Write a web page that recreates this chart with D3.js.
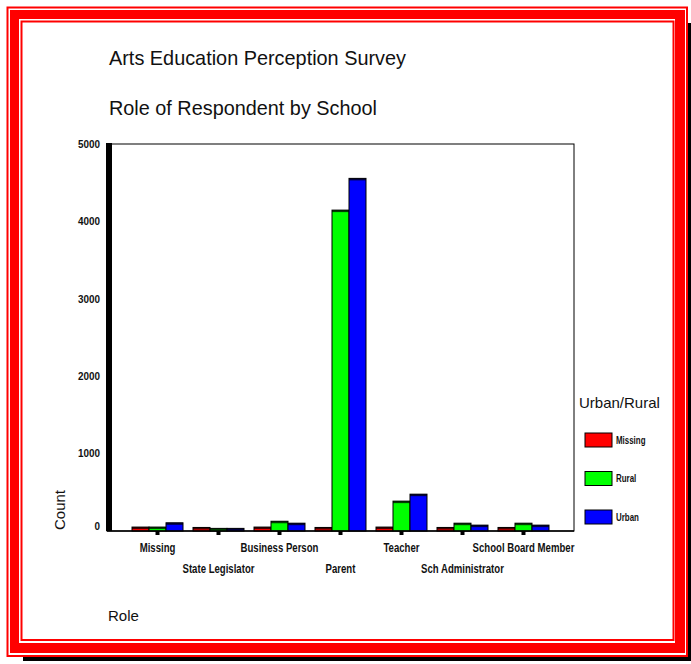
<!DOCTYPE html>
<html>
<head>
<meta charset="utf-8">
<script src="https://cdn.jsdelivr.net/npm/d3@7"></script>
<style>
  body { margin: 0; background: #fff; }
  svg { display: block; }
  .small { font-family: "Liberation Sans", Arial, sans-serif; font-weight: bold; }
  .big { font-family: "Liberation Sans", Arial, sans-serif; fill: #111; }
</style>
</head>
<body>
<div id="chart"></div>
<script>
// data
const roles = ["Missing", "State Legislator", "Business Person", "Parent", "Teacher", "Sch Administrator", "School Board Member"];
const groups = ["Missing", "Rural", "Urban"];
const missingCounts = [25, 20, 25, 20, 25, 20, 20];
const ruralCounts = [25, 8, 100, 4120, 360, 75, 75];
const urbanCounts = [80, 8, 75, 4530, 450, 50, 50];
const yTicks = [0, 1000, 2000, 3000, 4000, 5000];
const groupColors = ["#ff0000", "#00ff00", "#0000ff"];

const width = 691, height = 664;
const svg = d3.select('#chart').append('svg')
  .attr('width', width)
  .attr('height', height);

// frame: shadow, thin red, thick red band, thin red
svg.append('rect').attr('x', 23).attr('y', 23).attr('width', 668).attr('height', 638).attr('fill', '#000');
svg.append('rect').attr('x', 0).attr('y', 0).attr('width', 688).attr('height', 657).attr('fill', '#fff');
svg.append('rect').attr('x', 7.5).attr('y', 7.5).attr('width', 679.5).attr('height', 648.5)
  .attr('fill', 'none').attr('stroke', '#ff0000').attr('stroke-width', 2);
svg.append('rect').attr('x', 10).attr('y', 10).attr('width', 675).attr('height', 643).attr('fill', '#ff0000');
svg.append('rect').attr('x', 19).attr('y', 19).attr('width', 656).attr('height', 624).attr('fill', '#fff');
svg.append('rect').attr('x', 21.5).attr('y', 21.5).attr('width', 652).attr('height', 618.5)
  .attr('fill', 'none').attr('stroke', '#ff0000').attr('stroke-width', 2);

// titles
svg.append('text').attr('class', 'big').attr('x', 109).attr('y', 65)
  .attr('font-size', 21).attr('textLength', 297).attr('lengthAdjust', 'spacingAndGlyphs')
  .text('Arts Education Perception Survey');
svg.append('text').attr('class', 'big').attr('x', 109).attr('y', 115)
  .attr('font-size', 21).attr('textLength', 268).attr('lengthAdjust', 'spacingAndGlyphs')
  .text('Role of Respondent by School');

const plot = { left: 107, right: 574, top: 144, bottom: 531 };

const x0 = d3.scaleBand().domain(roles)
  .range([plot.left, plot.right])
  .paddingInner(0.164).paddingOuter(0.41);
const x1 = d3.scaleBand().domain(groups).range([0, x0.bandwidth()]);
const y = d3.scaleLinear().domain([0, 5000]).range([plot.bottom, plot.top]);

// plot box
svg.append('rect')
  .attr('x', plot.left).attr('y', plot.top)
  .attr('width', plot.right - plot.left).attr('height', plot.bottom - plot.top)
  .attr('fill', 'none').attr('stroke', '#000').attr('stroke-width', 1);

const series = [missingCounts, ruralCounts, urbanCounts];
const rows = roles.map((r, i) => groups.map((g, j) => ({ role: r, group: g, value: series[j][i], color: groupColors[j] })));

const roleG = svg.selectAll('.role')
  .data(rows)
  .enter()
  .append('g')
  .attr('transform', (d, i) => `translate(${x0(roles[i])},0)`);

roleG.selectAll('rect.bar')
  .data(d => d)
  .enter()
  .append('rect')
  .attr('class', 'bar')
  .attr('x', d => x1(d.group))
  .attr('y', d => y(d.value) - 2)
  .attr('width', x1.bandwidth())
  .attr('height', d => plot.bottom - y(d.value) + 2)
  .attr('fill', d => d.color)
  .attr('stroke', '#000')
  .attr('stroke-width', 1);

// dark top cap
roleG.selectAll('rect.cap')
  .data(d => d)
  .enter()
  .append('rect')
  .attr('class', 'cap')
  .attr('x', d => x1(d.group))
  .attr('y', d => y(d.value) - 2)
  .attr('width', x1.bandwidth())
  .attr('height', 2)
  .attr('fill', '#000')
  .attr('opacity', 0.75);

// baseline and thick left axis
svg.append('line')
  .attr('x1', plot.left).attr('x2', plot.right)
  .attr('y1', plot.bottom).attr('y2', plot.bottom)
  .attr('stroke', '#000').attr('stroke-width', 1.5);
svg.append('rect')
  .attr('x', plot.left - 1).attr('y', plot.top - 1)
  .attr('width', 6).attr('height', plot.bottom - plot.top + 1)
  .attr('fill', '#000');

// x ticks
svg.selectAll('.xtick')
  .data(roles)
  .enter()
  .append('rect')
  .attr('x', d => x0(d) + x0.bandwidth() / 2 - 2)
  .attr('y', plot.bottom)
  .attr('width', 4).attr('height', 4)
  .attr('fill', '#000');

// narrow labels: squeeze horizontally
svg.selectAll('.xlabel')
  .data(roles)
  .enter()
  .append('text')
  .attr('class', 'small')
  .attr('transform', (d, i) => `translate(${x0(d) + x0.bandwidth() / 2},${i % 2 === 0 ? 552 : 573}) scale(0.8,1)`)
  .attr('text-anchor', 'middle')
  .attr('font-size', 12)
  .attr('fill', '#111')
  .text(d => d);

// y tick labels
svg.selectAll('.ylabel')
  .data(yTicks)
  .enter()
  .append('text')
  .attr('class', 'small')
  .attr('transform', d => `translate(100,${d === 0 ? y(d) - 5 : y(d)}) scale(0.9,1)`)
  .attr('dy', '0.35em')
  .attr('text-anchor', 'end')
  .attr('font-size', 11)
  .attr('fill', '#111')
  .text(d => d);

// axis titles
svg.append('text').attr('class', 'big')
  .attr('transform', 'translate(65,510) rotate(-90)')
  .attr('text-anchor', 'middle')
  .attr('font-size', 15)
  .text('Count');
svg.append('text').attr('class', 'big')
  .attr('x', 108).attr('y', 621)
  .attr('font-size', 15)
  .text('Role');

// legend
svg.append('text').attr('class', 'big')
  .attr('x', 579).attr('y', 408)
  .attr('font-size', 15)
  .text('Urban/Rural');

const legend = svg.selectAll('.legend')
  .data(groups)
  .enter()
  .append('g')
  .attr('transform', (d, i) => `translate(585,${433 + i * 38.5})`);

legend.append('rect')
  .attr('width', 27).attr('height', 14)
  .attr('fill', (d, i) => groupColors[i])
  .attr('stroke', '#000').attr('stroke-width', 1);

legend.append('text')
  .attr('class', 'small')
  .attr('transform', 'translate(31,7) scale(0.72,1)')
  .attr('dy', '0.35em')
  .attr('font-size', 11)
  .attr('fill', '#111')
  .text(d => d);
</script>
</body>
</html>
